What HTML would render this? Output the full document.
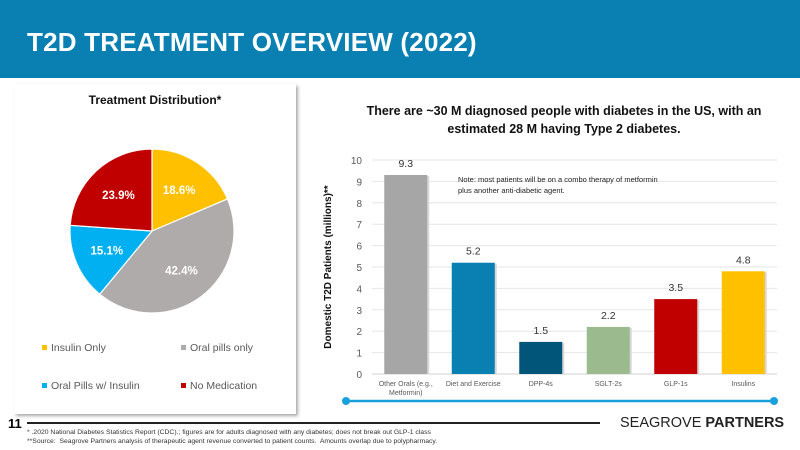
<!DOCTYPE html>
<html><head><meta charset="utf-8"><style>
body{margin:0;width:800px;height:450px;overflow:hidden;background:#fff;font-family:"Liberation Sans",sans-serif;position:relative}
.abs{position:absolute}
</style></head><body>
<div class="abs" style="left:0;top:0;width:800px;height:78px;background:#0A80B2"></div>
<div class="abs" style="left:27px;top:27px;color:#fff;font-size:26px;font-weight:bold;letter-spacing:0.2px">T2D TREATMENT OVERVIEW (2022)</div>
<div class="abs" style="left:14px;top:84px;width:282px;height:330px;background:#fff;box-shadow:2px 2px 3px #aaa"></div>
<div class="abs" style="left:334px;top:102px;width:460px;text-align:center;font-size:12.5px;font-weight:bold;color:#111;line-height:18px;white-space:nowrap">There are ~30 M diagnosed people with diabetes in the US, with an<br>estimated 28 M having Type 2 diabetes.</div>
<svg class="abs" style="left:0;top:0" width="800" height="450">
<g id="pie"></g>
<g id="bar"></g>
<line x1="346" y1="401" x2="774" y2="401" stroke="#1AA0DC" stroke-width="2.5"/>
<circle cx="346" cy="401" r="4" fill="#1AA0DC"/><circle cx="774" cy="401" r="4" fill="#1AA0DC"/>
<line x1="27" y1="423" x2="600" y2="423" stroke="#222" stroke-width="2"/>
</svg>
<div class="abs" style="left:8px;top:416px;font-size:13px;font-weight:bold">11</div>
<div class="abs" style="left:620px;top:415px;font-size:14.5px;color:#222">SEAGROVE <b>PARTNERS</b></div>
<div class="abs" style="left:27px;top:428px;font-size:6.8px;color:#333;line-height:9px">* .2020 National Diabetes Statistics Report (CDC).; figures are for adults diagnosed with any diabetes; does not break out GLP-1 class<br>**Source:&nbsp; Seagrove Partners analysis of therapeutic agent revenue converted to patient counts.&nbsp; Amounts overlap due to polypharmacy.</div>
<script>
const pieLabels=["Insulin Only","Oral pills only","Oral Pills w/ Insulin","No Medication"];
const pieValues=[18.6,42.4,15.1,23.9];
const pieColors=["#FFC000","#AFABAB","#00B0F0","#C00000"];
const barCats=["Other Orals (e.g.,|Metformin)","Diet and Exercise","DPP-4s","SGLT-2s","GLP-1s","Insulins"];
const barValues=[9.3,5.2,1.5,2.2,3.5,4.8];
const barColors=["#A6A6A6","#0A80B2","#005578","#9BBB8F","#C00000","#FFC000"];
const yTicks=[0,1,2,3,4,5,6,7,8,9,10];
const NS="http://www.w3.org/2000/svg";
function mk(p,t,a){const e=document.createElementNS(NS,t);for(const k in a)e.setAttribute(k,a[k]);p.appendChild(e);return e;}
const pie=document.getElementById('pie');
let t=mk(pie,'text',{x:155,y:104,'text-anchor':'middle','font-size':12,'font-weight':'bold',fill:'#111'});t.textContent='Treatment Distribution*';

const cx=152,cy=231,r=82;const tot=pieValues.reduce((a,b)=>a+b,0);let ang=-Math.PI/2;
pieValues.forEach((v,i)=>{const a2=ang+v/tot*2*Math.PI;
const x1=cx+r*Math.cos(ang),y1=cy+r*Math.sin(ang),x2=cx+r*Math.cos(a2),y2=cy+r*Math.sin(a2);
const p=mk(pie,'path',{d:`M${cx},${cy}L${x1},${y1}A${r},${r} 0 ${a2-ang>Math.PI?1:0} 1 ${x2},${y2}Z`,fill:pieColors[i],stroke:'#fff','stroke-width':1.2});

const m=(ang+a2)/2,lr=r*0.6;
const l=mk(pie,'text',{x:cx+lr*Math.cos(m),y:cy+lr*Math.sin(m)+4,'text-anchor':'middle','font-size':11.5,'font-weight':'bold',fill:'#fff'});l.textContent=v.toFixed(1)+'%';

ang=a2;});
pieLabels.forEach((lab,i)=>{const x=i%2?181:42,y=i<2?351:389;
const s=mk(pie,'rect',{x:x,y:y-6,width:5,height:5,fill:pieColors[i]});
const tx=mk(pie,'text',{x:x+9,y:y,'font-size':10.5,fill:'#595959'});tx.textContent=lab;
});
const bar=document.getElementById('bar');
const x0=372,x1=777,yb=374,yt=160;const ys=v=>yb-(v/10)*(yb-yt);const cw=(x1-x0)/barCats.length;
yTicks.forEach(v=>{mk(bar,'line',{x1:x0,x2:x1,y1:ys(v),y2:ys(v),stroke:v?'#E6E6E6':'#D0D0D0','stroke-width':1});
const tt=mk(bar,'text',{x:362,y:ys(v)+4,'text-anchor':'end','font-size':10,fill:'#595959'});tt.textContent=v;
});
const yl=mk(bar,'text',{transform:'translate(331,267) rotate(-90)','text-anchor':'middle','font-size':10,'font-weight':'bold',fill:'#111'});yl.textContent='Domestic T2D Patients (millions)**';

barCats.forEach((c,i)=>{const cxx=x0+cw*(i+0.5),w=43,v=barValues[i];
mk(bar,'rect',{x:cxx-w/2+2,y:ys(v)+1,width:w,height:yb-ys(v)-1,fill:'#d8d8d8'});
const b=mk(bar,'rect',{x:cxx-w/2,y:ys(v),width:w,height:yb-ys(v),fill:barColors[i]});

const vl=mk(bar,'text',{x:cxx,y:ys(v)-8,'text-anchor':'middle','font-size':10.5,fill:'#333'});vl.textContent=v.toFixed(1);

c.split('|').forEach((ln,j)=>{const cl=mk(bar,'text',{x:cxx,y:386+j*9,'text-anchor':'middle','font-size':7,fill:'#595959'});cl.textContent=ln;
});});
const n=mk(bar,'text',{x:458,y:182,'font-size':7.5,fill:'#222'});n.textContent='Note: most patients will be on a combo therapy of metformin';

const n2=mk(bar,'text',{x:458,y:193,'font-size':7.5,fill:'#222'});n2.textContent='plus another anti-diabetic agent.';
</script>
</body></html>
